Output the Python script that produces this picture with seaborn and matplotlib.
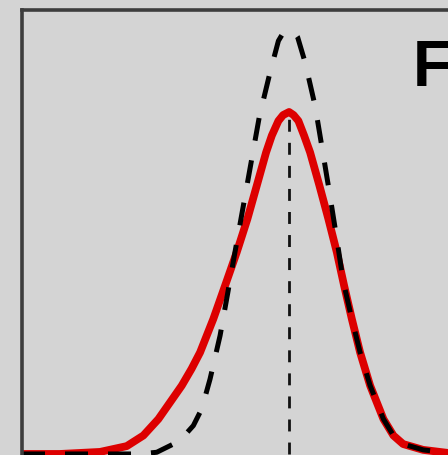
import matplotlib
matplotlib.use("Agg")
import matplotlib.pyplot as plt
import seaborn as sns
import pandas as pd

# Data (arbitrary units: x centred on the mode, y scaled so red peak = 1)
red_x = [-4.450, -3.817, -3.150, -2.705, -2.428, -2.178, -1.955, -1.788, -1.625, -1.483,
         -1.262, -1.067, -0.872, -0.695, -0.538, -0.383, -0.288, -0.178, -0.100, 0.000,
         0.075, 0.155, 0.250, 0.350, 0.505, 0.655, 0.795, 0.917, 1.045, 1.183, 1.350,
         1.572, 1.738, 1.900, 2.233, 2.650, 5.183]
red_y = [0.000, 0.000, 0.006, 0.023, 0.054, 0.102, 0.158, 0.200, 0.249, 0.297,
         0.395, 0.492, 0.590, 0.687, 0.785, 0.882, 0.931, 0.974, 0.991, 1.000,
         0.991, 0.974, 0.931, 0.882, 0.785, 0.687, 0.590, 0.492, 0.395, 0.297, 0.200,
         0.102, 0.054, 0.029, 0.012, 0.003, 0.000]

black_x = [-4.450, -2.483, -2.205, -1.928, -1.733, -1.595, -1.455, -1.317, -1.150, -1.025,
           -0.912, -0.762, -0.622, -0.495, -0.317, -0.178, -0.100, 0.000, 0.083, 0.142,
           0.267, 0.433, 0.562, 0.672, 0.795, 0.905, 1.045, 1.183, 1.350, 1.572,
           1.738, 1.900, 2.233, 2.650, 5.183]
black_y = [0.000, 0.000, 0.005, 0.029, 0.056, 0.083, 0.132, 0.219, 0.346, 0.468,
           0.580, 0.726, 0.863, 0.987, 1.116, 1.208, 1.231, 1.238, 1.234, 1.219,
           1.145, 1.018, 0.882, 0.765, 0.629, 0.502, 0.395, 0.297, 0.200, 0.102,
           0.054, 0.029, 0.012, 0.003, 0.000]

mode_x = [0.0, 0.0]
mode_y = [0.0, 1.0]

label_text = "F"

red_df = pd.DataFrame({"x": red_x, "y": red_y})
black_df = pd.DataFrame({"x": black_x, "y": black_y})
mode_df = pd.DataFrame({"x": mode_x, "y": mode_y})

sns.set_style("white")
plt.rcParams["font.family"] = ["Liberation Sans", "DejaVu Sans"]

BG = "#d4d4d4"
fig = plt.figure(figsize=(4.48, 4.56), dpi=100, facecolor=BG)
W, H = 448.0, 456.0
left_px, right_px, top_px = 22.0, 600.0, 10.5
ax = fig.add_axes([left_px / W, 0.0, (right_px - left_px) / W, (H - top_px) / H])
ax.set_facecolor(BG)

sns.lineplot(data=red_df, x="x", y="y", ax=ax, color="#dd0000", linewidth=5.6,
             sort=False, estimator=None, solid_joinstyle="round", solid_capstyle="round")
sns.lineplot(data=black_df, x="x", y="y", ax=ax, color="black", linewidth=3.6,
             sort=False, estimator=None, linestyle=(0, (4.6, 4.0)),
             dash_joinstyle="round")
sns.lineplot(data=mode_df, x="x", y="y", ax=ax, color="#111111", linewidth=2.0,
             sort=False, estimator=None, linestyle=(0, (4.3, 4.0)))

# axis limits in data units
ax.set_xlim(-4.45, 5.18)
ax.set_ylim(-0.003, 1.2997)

for side in ["right", "bottom"]:
    ax.spines[side].set_visible(False)
for side in ["left", "top"]:
    ax.spines[side].set_visible(True)
    ax.spines[side].set_color("#3d3d3d")
    ax.spines[side].set_linewidth(2.6)

ax.set_xticks([])
ax.set_yticks([])
ax.set_xlabel("")
ax.set_ylabel("")
if ax.get_legend() is not None:
    ax.get_legend().remove()

fig.text(413 / W, 1 - 86 / H, label_text, fontsize=46, color="black",
         fontweight="bold", ha="left", va="baseline")

fig.savefig("out.png", dpi=100, facecolor=BG)
